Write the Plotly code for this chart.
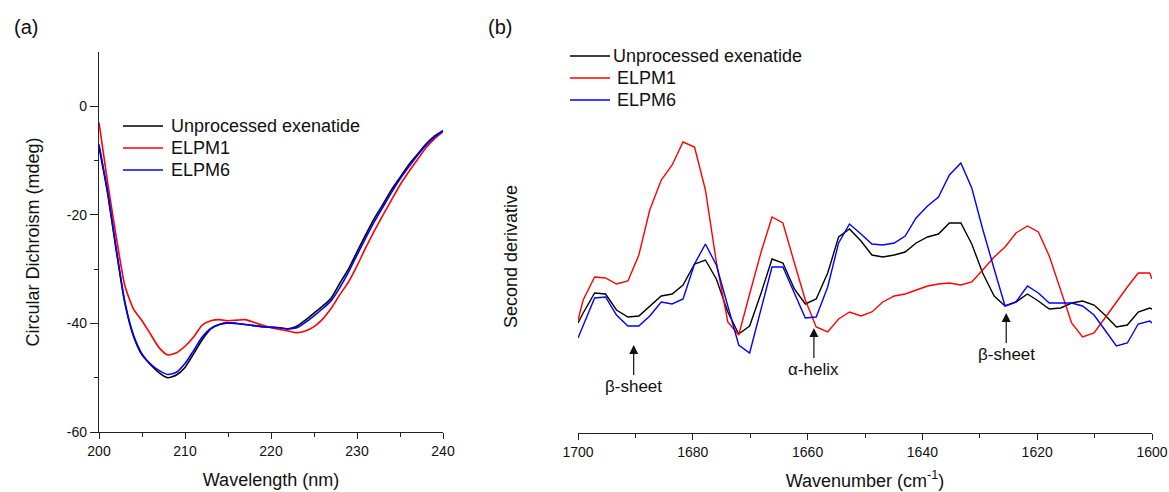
import plotly.graph_objects as go

FONT = "Arial, 'Liberation Sans', sans-serif"

# ---------------- Panel (a): CD spectra ----------------
wavelength_nm = list(range(200, 241))
cd_unprocessed = [-7.5, -16.0, -26.5, -36.2, -42.3, -45.8, -47.6, -49.1, -50.0, -49.5,
                  -48.1, -45.6, -43.0, -41.0, -40.2, -39.9, -40.0, -40.2, -40.4, -40.6,
                  -40.7, -40.8, -41.0, -40.5, -39.4, -38.1, -36.8, -35.3, -32.6, -30.0,
                  -26.8, -23.7, -20.7, -18.1, -15.4, -13.1, -10.8, -8.9, -7.0, -5.5, -4.5]
cd_elpm1 = [-3.0, -14.0, -24.0, -33.0, -37.3, -39.5, -42.0, -44.5, -45.8, -45.4,
            -44.2, -42.5, -40.3, -39.5, -39.3, -39.5, -39.4, -39.3, -39.8, -40.3,
            -40.8, -41.1, -41.4, -41.7, -41.4, -40.6, -39.2, -37.2, -34.7, -32.4,
            -29.4, -26.1, -23.0, -20.1, -17.3, -14.5, -12.1, -9.9, -7.7, -6.0, -4.7]
cd_elpm6 = [-7.0, -15.7, -26.2, -36.0, -42.1, -45.6, -47.5, -48.7, -49.4, -49.0,
            -47.4, -45.0, -42.5, -40.9, -40.2, -39.9, -40.0, -40.2, -40.4, -40.6,
            -40.7, -40.8, -41.0, -40.8, -39.8, -38.6, -37.3, -35.8, -33.4, -30.6,
            -27.4, -24.3, -21.3, -18.6, -15.9, -13.4, -11.2, -9.1, -7.2, -5.7, -4.5]

# ---------------- Panel (b): FTIR second derivative (a.u.) ----------------
wavenumber = [1700.0, 1699.1, 1697.1, 1695.2, 1693.3, 1691.3, 1689.4, 1687.5, 1685.5, 1683.6,
              1681.7, 1679.7, 1677.8, 1675.9, 1673.9, 1672.0, 1670.1, 1668.1, 1666.2, 1664.3,
              1662.3, 1660.4, 1658.5, 1656.5, 1654.6, 1652.7, 1650.7, 1648.8, 1646.9, 1644.9,
              1643.0, 1641.1, 1639.1, 1637.2, 1635.3, 1633.3, 1631.4, 1629.5, 1627.5, 1625.6,
              1623.7, 1621.7, 1619.8, 1617.9, 1615.9, 1614.0, 1612.1, 1610.1, 1608.2, 1606.2,
              1604.3, 1602.4, 1600.4, 1600.0]
d2_unprocessed = [1.10, 1.20, 1.40, 1.39, 1.23, 1.16, 1.17, 1.27, 1.37, 1.39,
                  1.48, 1.69, 1.73, 1.54, 1.21, 0.99, 1.07, 1.40, 1.74, 1.70,
                  1.44, 1.29, 1.34, 1.60, 1.96, 2.04, 1.92, 1.78, 1.76, 1.78,
                  1.81, 1.90, 1.96, 1.99, 2.10, 2.10, 1.89, 1.60, 1.37, 1.27,
                  1.31, 1.39, 1.32, 1.24, 1.25, 1.30, 1.32, 1.28, 1.18, 1.06,
                  1.08, 1.21, 1.25, 1.24]
d2_elpm1 = [1.13, 1.33, 1.56, 1.55, 1.49, 1.52, 1.78, 2.23, 2.53, 2.68,
            2.91, 2.86, 2.43, 1.71, 1.11, 0.98, 1.39, 1.81, 2.16, 2.10,
            1.70, 1.33, 1.06, 1.01, 1.14, 1.21, 1.17, 1.21, 1.31, 1.37,
            1.39, 1.43, 1.47, 1.49, 1.50, 1.48, 1.51, 1.63, 1.76, 1.86,
            2.00, 2.07, 2.01, 1.77, 1.43, 1.10, 0.96, 1.00, 1.15, 1.31,
            1.46, 1.60, 1.60, 1.54]
d2_elpm6 = [0.95, 1.08, 1.35, 1.36, 1.18, 1.07, 1.07, 1.17, 1.31, 1.29,
            1.34, 1.69, 1.89, 1.68, 1.28, 0.88, 0.80, 1.23, 1.66, 1.66,
            1.40, 1.15, 1.16, 1.46, 1.90, 2.09, 1.99, 1.89, 1.88, 1.90,
            1.97, 2.15, 2.27, 2.36, 2.58, 2.70, 2.45, 2.04, 1.64, 1.27,
            1.31, 1.47, 1.40, 1.30, 1.30, 1.30, 1.27, 1.18, 1.03, 0.87,
            0.90, 1.09, 1.12, 1.10]

series_names = ["Unprocessed exenatide", "ELPM1", "ELPM6"]
series_colors = ["#000000", "#ff0000", "#0000ff"]

# band assignments (wavenumber, label, arrow-tip value)
band_pos = [1690.3, 1658.9, 1625.4]
band_labels = ["β-sheet", "α-helix", "β-sheet"]
band_tip = [0.88, 1.05, 1.20]

fig = go.Figure()

for name, col, ys in zip(series_names, series_colors, [cd_unprocessed, cd_elpm1, cd_elpm6]):
    fig.add_trace(go.Scatter(x=wavelength_nm, y=ys, mode="lines", name=name, showlegend=False,
                             line=dict(color=col, width=1.6, shape="spline", smoothing=0.6),
                             xaxis="x", yaxis="y"))

for name, col, ys in zip(series_names, series_colors, [d2_unprocessed, d2_elpm1, d2_elpm6]):
    fig.add_trace(go.Scatter(x=wavenumber, y=ys, mode="lines", name=name, showlegend=False,
                             line=dict(color=col, width=1.4),
                             xaxis="x2", yaxis="y2"))

W, H = 1169, 492
def px(x):
    return x / W
def py(y):
    return 1 - y / H

axis_common = dict(showgrid=False, zeroline=False, showline=True, linecolor="#222",
                   linewidth=1.2, ticks="outside", tickcolor="#222", tickwidth=1.2,
                   automargin=False,
                   tickfont=dict(family=FONT, size=14, color="#111"))

fig.update_layout(
    width=W, height=H,
    margin=dict(l=0, r=0, t=0, b=0, autoexpand=False),
    paper_bgcolor="white", plot_bgcolor="white",
    font=dict(family=FONT, color="#111"),
    showlegend=False,
    xaxis=dict(domain=[px(99), px(443)], range=[200, 240], anchor="y",
               tickmode="array", tickvals=[200, 210, 220, 230, 240],
               ticktext=["200", "210", "220", "230", "240"], ticklen=6,
               minor=dict(tickmode="array", tickvals=[205, 215, 225, 235], ticklen=4,
                          ticks="outside", tickcolor="#222", tickwidth=1.2),
               title=dict(text="Wavelength (nm)", font=dict(family=FONT, size=18), standoff=15),
               **axis_common),
    yaxis=dict(domain=[py(432), py(52)], range=[-60, 10], anchor="x",
               tickmode="array", tickvals=[0, -20, -40, -60],
               ticktext=["0", "-20", "-40", "-60"], ticklen=8,
               minor=dict(tickmode="array", tickvals=[-10, -30, -50], ticklen=4,
                          ticks="outside", tickcolor="#222", tickwidth=1.2),
               title=dict(text="Circular Dichroism (mdeg)", font=dict(family=FONT, size=18), standoff=22),
               **axis_common),
    xaxis2=dict(domain=[px(578), px(1152)], range=[1700, 1600], anchor="y2",
                tickmode="array", tickvals=[1700, 1680, 1660, 1640, 1620, 1600],
                ticktext=["1700", "1680", "1660", "1640", "1620", "1600"], ticklen=6,
                minor=dict(tickmode="array", tickvals=[1690, 1670, 1650, 1630, 1610], ticklen=4,
                           ticks="outside", tickcolor="#222", tickwidth=1.2),
                title=dict(text="Wavenumber (cm<sup>-1</sup>)", font=dict(family=FONT, size=18), standoff=15),
                **axis_common),
    yaxis2=dict(domain=[py(433), py(52)], range=[0, 3.81], anchor="x2", automargin=False,
                showline=False, showticklabels=False, ticks="", showgrid=False, zeroline=False),
)

annotations = [
    dict(text="(a)", x=px(12), y=py(27), xref="paper", yref="paper", xanchor="left",
         yanchor="middle", showarrow=False, font=dict(family=FONT, size=20, color="#111")),
    dict(text="(b)", x=px(486), y=py(27), xref="paper", yref="paper", xanchor="left",
         yanchor="middle", showarrow=False, font=dict(family=FONT, size=20, color="#111")),
    dict(text="Second derivative", x=px(511), y=py(257), xref="paper", yref="paper",
         textangle=-90, showarrow=False, font=dict(family=FONT, size=18, color="#111")),
]
for wn, lab, tip in zip(band_pos, band_labels, band_tip):
    annotations.append(dict(text=lab, x=wn, y=tip, xref="x2", yref="y2", showarrow=True,
                            ax=0, ay=41, arrowhead=2, arrowsize=1.5, arrowwidth=1.2,
                            arrowcolor="#111", font=dict(family=FONT, size=17, color="#111")))

# hand-placed legends (line sample + label) for each panel
shapes = []
legend_specs = [
    (123, 163, 169, [126, 148, 170]),   # panel (a): line x0, x1, text x, row y
    (570, 610, 611, [56, 78, 100]),     # panel (b)
]
for x0, x1, tx, rows in legend_specs:
    for i, (name, col) in enumerate(zip(series_names, series_colors)):
        yy = rows[i]
        shapes.append(dict(type="line", xref="paper", yref="paper",
                           x0=px(x0), x1=px(x1), y0=py(yy), y1=py(yy),
                           line=dict(color=col, width=1.6)))
        annotations.append(dict(text=name, x=px(tx + (0 if (i == 0 or x0 < 300) else 4)), y=py(yy),
                                xref="paper", yref="paper", xanchor="left", yanchor="middle",
                                showarrow=False, font=dict(family=FONT, size=18, color="#111")))

fig.update_layout(annotations=annotations, shapes=shapes)

fig.write_html("out.html")
